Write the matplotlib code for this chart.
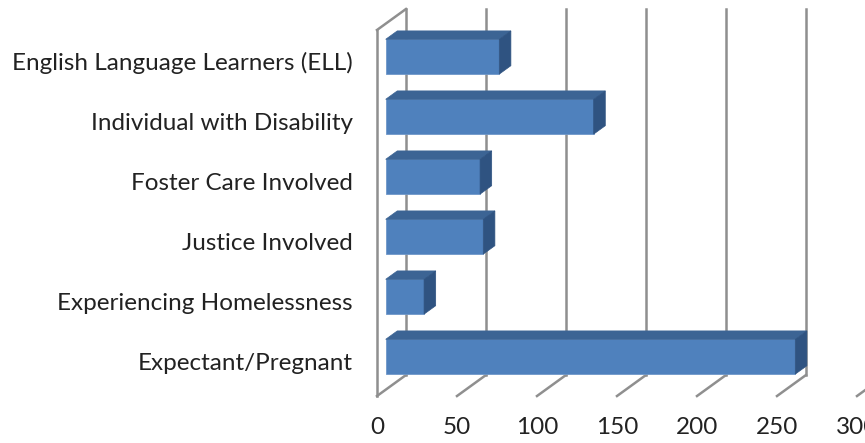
import numpy as np
import matplotlib
matplotlib.use("Agg")
import matplotlib.pyplot as plt
from matplotlib.patches import Polygon

categories = ["Expectant/Pregnant", "Experiencing Homelessness", "Justice Involved",
              "Foster Care Involved", "Individual with Disability",
              "English Language Learners (ELL)"]
values = [256, 24, 61, 59, 130, 71]
ticks = [0, 50, 100, 150, 200, 250, 300]

# oblique 3d look: full depth shift in data units
DX, DY = 18.125, 0.35
front_c, top_c, side_c = "#4f81bd", "#3c6494", "#2f5381"
grid_c = "#8f8f8f"

fig = plt.figure(figsize=(8.65, 4.43), dpi=100)
ax = fig.add_axes([0, 0, 1, 1])
ax.set_xlim(-235.6, 305.0)
ax.set_ylim(-1.333, 6.05)
ax.axis("off")

floor_y, top_y = -0.55, 5.55

# back wall gridlines
for t in ticks:
    ax.plot([t + DX, t + DX], [floor_y + DY, top_y + DY], color=grid_c, lw=1.8, zorder=1)
    # floor ticks
    ax.plot([t, t + DX], [floor_y, floor_y + DY], color=grid_c, lw=1.8, zorder=1)
# left wall
ax.plot([0, 0], [floor_y, top_y], color=grid_c, lw=1.8, zorder=1)
ax.plot([0, DX], [top_y, top_y + DY], color=grid_c, lw=1.8, zorder=1)

# bars
d0, d1 = 0.3, 0.7
h = 0.58
xo, yo = d0 * DX, d0 * DY
bx, by = (d1 - d0) * DX, (d1 - d0) * DY
ypos = np.arange(len(categories))
ax.barh(ypos + yo, values, left=xo, height=h, color=front_c,
        edgecolor="#6f97c9", linewidth=0.6, zorder=3)
for y, v in zip(ypos, values):
    yt = y + yo + h / 2
    yb = y + yo - h / 2
    x1 = xo + v
    ax.add_patch(Polygon([(xo, yt), (x1, yt), (x1 + bx, yt + by), (xo + bx, yt + by)],
                         closed=True, fc=top_c, ec=top_c, lw=0.5, zorder=3))
    ax.add_patch(Polygon([(x1, yb), (x1 + bx, yb + by), (x1 + bx, yt + by), (x1, yt)],
                         closed=True, fc=side_c, ec=side_c, lw=0.5, zorder=3))

font = "Lato"
for t in ticks:
    ax.text(t, -1.083, str(t), ha="center", va="center", fontsize=17.5,
            family=font, color="#222222")
for y, c in zip(ypos, categories):
    ax.text(-15, y, c, ha="right", va="center", fontsize=17.5, family=font,
            color="#222222")

fig.savefig("out.png", dpi=100)
